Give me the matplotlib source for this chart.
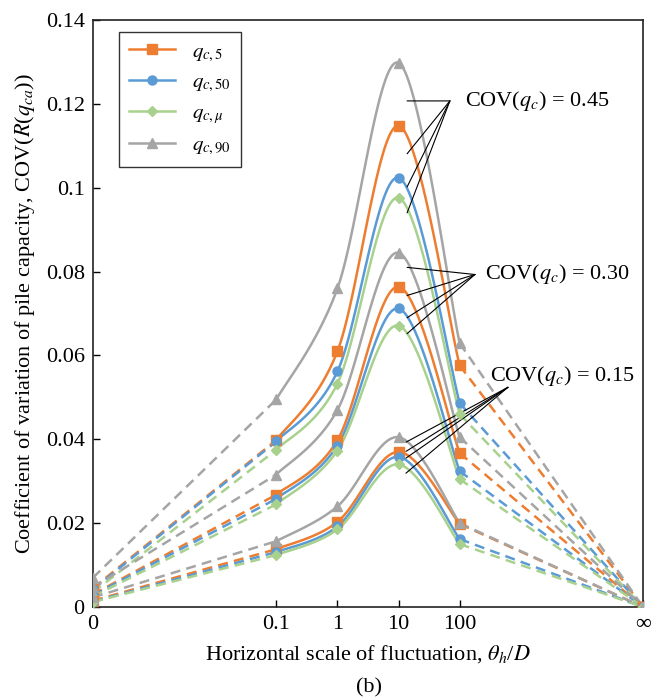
import numpy as np
import matplotlib
matplotlib.use("Agg")
import matplotlib.pyplot as plt
from matplotlib.lines import Line2D

plt.rcParams['font.family'] = ['Liberation Serif', 'DejaVu Serif']
plt.rcParams['mathtext.fontset'] = 'stix'

# x categories (axis is not numeric: 0, 0.1..100 on log steps, then infinity)
x_labels = ['0', '0.1', '1', '10', '100', '∞']
x_pos = [0, 3, 4, 5, 6, 9]

series_names = ['$q_{c,5}$', '$q_{c,50}$', '$q_{c,\\mu}$', '$q_{c,90}$']
colors = ['#ED7D31', '#5B9BD5', '#A9D18E', '#A5A5A5']
markers = ['s', 'o', 'D', '^']
msizes = [6.5, 6.5, 5.0, 7.0]

# values at theta_h/D = 0, 0.1, 1, 10, 100, inf
cov45_q5 = [0.0045, 0.0398, 0.0610, 0.1148, 0.0576, 0.0]
cov45_q50 = [0.0042, 0.0395, 0.0562, 0.1024, 0.0486, 0.0]
cov45_qmu = [0.0035, 0.0375, 0.0533, 0.0976, 0.0460, 0.0]
cov45_q90 = [0.0070, 0.0495, 0.0760, 0.1298, 0.0629, 0.0]

cov30_q5 = [0.0030, 0.0268, 0.0398, 0.0764, 0.0367, 0.0]
cov30_q50 = [0.0028, 0.0258, 0.0385, 0.0712, 0.0324, 0.0]
cov30_qmu = [0.0025, 0.0245, 0.0373, 0.0671, 0.0305, 0.0]
cov30_q90 = [0.0047, 0.0316, 0.0470, 0.0845, 0.0405, 0.0]

cov15_q5 = [0.0015, 0.0138, 0.0203, 0.0370, 0.0198, 0.0]
cov15_q50 = [0.0013, 0.0131, 0.0192, 0.0358, 0.0162, 0.0]
cov15_qmu = [0.0012, 0.0124, 0.0185, 0.0340, 0.0150, 0.0]
cov15_q90 = [0.0023, 0.0157, 0.0240, 0.0405, 0.0200, 0.0]

groups = [
    [cov45_q5, cov45_q50, cov45_qmu, cov45_q90],
    [cov30_q5, cov30_q50, cov30_qmu, cov30_q90],
    [cov15_q5, cov15_q50, cov15_qmu, cov15_q90],
]
cov_labels = ['COV($q_c$) = 0.45', 'COV($q_c$) = 0.30', 'COV($q_c$) = 0.15']


def smooth(xs, ys, n=40):
    # excel-like smoothed line (catmull-rom, end points reused as neighbours)
    px = np.array(xs, float)
    py = np.array(ys, float)
    px = np.concatenate([[px[0]], px, [px[-1]]])
    py = np.concatenate([[py[0]], py, [py[-1]]])
    out_x, out_y = [], []
    t = np.linspace(0, 1, n)
    for i in range(1, len(px) - 2):
        for p, out in ((px, out_x), (py, out_y)):
            p0, p1, p2, p3 = p[i - 1], p[i], p[i + 1], p[i + 2]
            m1 = (p2 - p0) / 2
            m2 = (p3 - p1) / 2
            h00 = 2 * t**3 - 3 * t**2 + 1
            h10 = t**3 - 2 * t**2 + t
            h01 = -2 * t**3 + 3 * t**2
            h11 = t**3 - t**2
            out.extend(h00 * p1 + h10 * m1 + h01 * p2 + h11 * m2)
    return out_x, out_y


fig = plt.figure(figsize=(6.59, 7.0), dpi=100)
ax = fig.add_axes([93 / 659, 1 - 607 / 700, 550 / 659, 587 / 700])

dash = (0, (4, 2.5))
lw = 1.8
for g, group in enumerate(groups):
    for k, vals in enumerate(group):
        c = colors[k]
        # dashed ends
        ax.plot(x_pos[:2], vals[:2], color=c, lw=lw, ls=dash, zorder=2)
        ax.plot(x_pos[-2:], vals[-2:], color=c, lw=lw, ls=dash, zorder=2)
        sx, sy = smooth(x_pos[1:5], vals[1:5])
        ax.plot(sx, sy, color=c, lw=lw, zorder=3)
        ax.plot(x_pos, vals, ls='none', marker=markers[k], ms=msizes[k],
                color=c, zorder=4)

# leader lines to the curve groups
anchors = [(5.84, 0.1207), (6.25, 0.0793), (6.79, 0.0524)]
ends_y = [
    [0.1207, 0.1081, 0.1002, 0.0940],
    [0.0810, 0.0743, 0.0690, 0.0652],
    [0.0393, 0.0371, 0.0355, 0.0319],
]
ends_x = [5.14, 5.14, 5.12]
text_pos = [(6.08, 0.1207), (6.42, 0.0795), (6.5, 0.0552)]
for i in range(3):
    for ey in ends_y[i]:
        ax.annotate('', xy=(ends_x[i], ey), xytext=anchors[i],
                    arrowprops=dict(arrowstyle='-', lw=0.8, color='black',
                                    shrinkA=0, shrinkB=0))
    ax.text(text_pos[i][0], text_pos[i][1], cov_labels[i], fontsize=16,
            ha='left', va='center')

ax.set_xlim(0, 9)
ax.set_ylim(0, 0.14)
ax.set_xticks(x_pos)
ax.set_xticklabels(x_labels)
yt = [0, 0.02, 0.04, 0.06, 0.08, 0.1, 0.12, 0.14]
ax.set_yticks(yt)
ax.set_yticklabels(['0', '0.02', '0.04', '0.06', '0.08', '0.1', '0.12', '0.14'])
ax.tick_params(direction='in', length=5, width=1, labelsize=16, pad=6)
for s in ax.spines.values():
    s.set_linewidth(1.2)
    s.set_color('#222222')

ax.set_xlabel('Horizontal scale of fluctuation, $\\theta_h$/$D$', fontsize=16, labelpad=6)
ax.set_ylabel('Coefficient of variation of pile capacity, COV($R$($q_{ca}$))',
              fontsize=16, labelpad=6)

handles = [Line2D([], [], color=colors[k], lw=lw, marker=markers[k],
                  ms=msizes[k]) for k in range(4)]
leg = ax.legend(handles, series_names, loc='upper left',
                bbox_to_anchor=(0.047, 0.98), fontsize=15,
                frameon=True, fancybox=False, edgecolor='black',
                handlelength=2.2, labelspacing=0.45, borderpad=0.5,
                handletextpad=0.8, borderaxespad=0)
leg.get_frame().set_linewidth(1.0)

fig.text(0.56, 0.017, '(b)', fontsize=16, ha='center', va='center')

fig.savefig('out.png', dpi=100)
